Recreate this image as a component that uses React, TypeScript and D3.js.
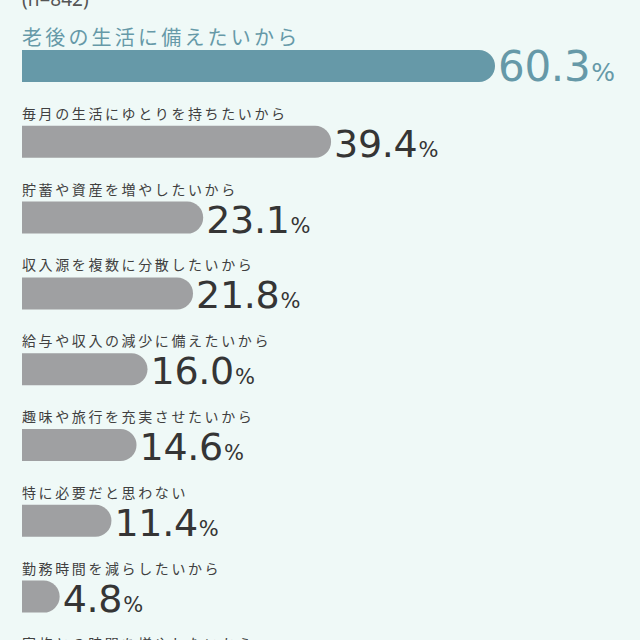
import React, { useEffect, useRef } from 'react';
import * as d3 from 'd3';

// reasons (investment survey), n=842
const reasons = [
  '老後の生活に備えたいから',
  '毎月の生活にゆとりを持ちたいから',
  '貯蓄や資産を増やしたいから',
  '収入源を複数に分散したいから',
  '給与や収入の減少に備えたいから',
  '趣味や旅行を充実させたいから',
  '特に必要だと思わない',
  '勤務時間を減らしたいから',
  '家族との時間を増やしたいから',
];
const shares = [60.3, 39.4, 23.1, 21.8, 16.0, 14.6, 11.4, 4.8, 3.6];
const sampleNote = '(n=842)';

const W = 640;
const H = 640;
const BG = '#eff9f7';
const TEAL = '#6699a8';
const GREY = '#9fa0a2';
const INK = '#353535';

const App: React.FC = () => {
  const svgRef = useRef<SVGSVGElement>(null);

  useEffect(() => {
    if (!svgRef.current) return;
    const svg = d3.select(svgRef.current);
    svg.selectAll('*').remove();

    const rows = reasons.map((r, i) => ({ label: r, value: shares[i], top: i === 0 }));

    const x = d3.scaleLinear().domain([0, 60.3]).range([22, 495]);
    const y = d3.scaleBand<string>().domain(reasons).range([12, 12 + 75.8 * reasons.length]).padding(0);

    const barH = 32;
    const barOffset = 38;

    svg.append('rect').attr('width', W).attr('height', H).attr('fill', BG);

    svg.append('text')
      .attr('x', 22).attr('y', 6)
      .attr('font-family', "'Noto Sans', sans-serif")
      .attr('font-size', 19)
      .attr('fill', '#555')
      .text(sampleNote);

    const g = svg.selectAll('g.row').data(rows).join('g').attr('class', 'row')
      .attr('transform', d => `translate(0,${y(d.label)})`);

    g.append('text')
      .attr('x', 22)
      .attr('y', d => (d.top ? 33 : 31))
      .attr('font-family', "'Noto Sans CJK JP', sans-serif")
      .attr('font-size', d => (d.top ? 20 : 14))
      .attr('letter-spacing', d => (d.top ? 3.2 : 2.6))
      .attr('fill', d => (d.top ? TEAL : '#404040'))
      .text(d => d.label);

    // bars: square left end, rounded right end
    g.append('path')
      .attr('d', d => {
        const x0 = x(0), x1 = x(d.value), r = barH / 2;
        const y0 = barOffset, y1 = barOffset + barH;
        const p = d3.path();
        p.moveTo(x0, y0);
        p.lineTo(x1 - r, y0);
        p.arc(x1 - r, y0 + r, r, -Math.PI / 2, Math.PI / 2);
        p.lineTo(x0, y1);
        p.closePath();
        return p.toString();
      })
      .attr('fill', d => (d.top ? TEAL : GREY));

    const val = g.append('text')
      .attr('x', d => x(d.value) + 3)
      .attr('y', barOffset + barH - 1)
      .attr('font-family', "'DejaVu Sans', sans-serif")
      .attr('fill', d => (d.top ? TEAL : INK));
    val.append('tspan')
      .attr('font-size', d => (d.top ? 42 : 38))
      .attr('letter-spacing', -0.3)
      .text(d => d.value.toFixed(1));
    val.append('tspan')
      .attr('font-size', d => (d.top ? 25 : 21))
      .attr('dx', 1)
      .text('%');
  }, []);

  return (
    <div style={{ position: 'fixed', left: 0, top: 0, width: W, height: H, overflow: 'hidden' }}>
      <svg ref={svgRef} width={W} height={H} style={{ display: 'block' }} />
    </div>
  );
};

export default App;
